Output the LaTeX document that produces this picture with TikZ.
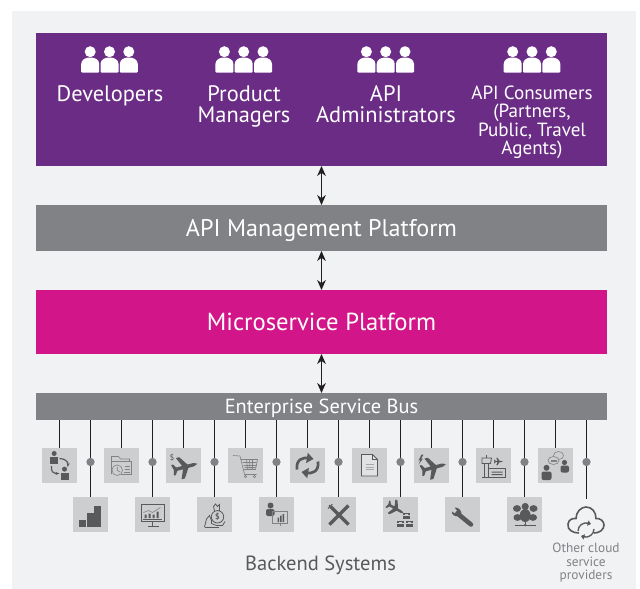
\documentclass[tikz,border=0pt]{standalone}
\usepackage{fontspec}
\setmainfont{PT Sans}
\usetikzlibrary{positioning}
\usetikzlibrary{arrows.meta}
\definecolor{panelgray}{HTML}{F1F2F4}
\definecolor{platpurple}{HTML}{6B2C85}
\definecolor{platmagenta}{HTML}{D2168A}
\definecolor{platgray}{HTML}{808285}
\definecolor{tilegray}{HTML}{CDCECF}
\definecolor{icondark}{HTML}{58595B}
\definecolor{linedark}{HTML}{231F20}
\tikzset{
	layerbox/.style = {rectangle, inner sep = 0pt, outer sep = 0pt, text = white, text depth = 0pt, minimum width = 428.25pt},
	grouplabel/.style = {anchor = north, align = center, inner sep = 0pt, text = white, font = \fontsize{16.8}{15.8}\selectfont},
	tile/.style = {rectangle, fill = tilegray, inner sep = 0pt, minimum size = 26.25pt},
	busdot/.style = {circle, fill = platgray, inner sep = 0pt, minimum size = 6.2pt},
	busline/.style = {draw = linedark, line width = 1pt},
	biarrow/.style = {{Stealth[length = 7.5pt, width = 6.5pt]}-{Stealth[length = 7.5pt, width = 6.5pt]}, draw = linedark, line width = 0.7pt},
	iconline/.style = {draw = icondark, line width = 0.6pt, fill = none},
	iconthin/.style = {draw = platgray, line width = 0.45pt, fill = none},
	% three persons
	pics/persons/.style = {code = {
		\foreach \dx in {-19.3,0,19.3} {
			\fill [white, shift = {(\dx,0)}] (0,-10.3) circle [radius = 5.5];
			\fill [white, shift = {(\dx,0)}, rounded corners = 0.8pt] (-9,10.7) -- (-9,3) .. controls (-9,-2.5) and (-4,-4.5) .. (0,-4.5) .. controls (4,-4.5) and (9,-2.5) .. (9,3) -- (9,10.7) -- cycle;
		}
	}},
	% plane, nose along +x
	pics/plane/.style = {code = {
		\fill [icondark, rounded corners = 0.3pt] (13,0) -- (9,-1.7) -- (3,-1.7) -- (-3,-11) -- (-6.5,-11) -- (-2.5,-1.7) -- (-8.5,-1.7) -- (-11,-5.5) -- (-13,-5.5) -- (-11.5,0) -- (-13,5.5) -- (-11,5.5) -- (-8.5,1.7) -- (-2.5,1.7) -- (-6.5,11) -- (-3,11) -- (3,1.7) -- (9,1.7) -- cycle;
	}},
	pics/swapicon/.style = {code = {
		\fill [icondark] (-5.3,-12) circle [radius = 2.5];
		\fill [icondark] (-9.3,-9) rectangle (-1.3,-1.7);
		\fill [icondark] (5,3.7) circle [radius = 2.5];
		\fill [icondark] (1,7) rectangle (9,14);
		\draw [iconline, line width = 0.9pt, -{Stealth[length = 3pt]}] (0,-7) .. controls (6,-7) and (9,-3) .. (8,1.5);
		\draw [iconline, line width = 0.9pt, -{Stealth[length = 3pt]}] (-8,0.5) .. controls (-9,6) and (-6,8) .. (0,8);
	}},
	pics/foldericon/.style = {code = {
		\draw [iconthin] (-10,8.5) -- (-10,-9) -- (-3,-9) -- (-1,-6.5) -- (8,-6.5) -- (8,-4.5);
		\draw [iconthin] (-10,-4.5) -- (10,-4.5) -- (10,9) -- (-1,9);
		\filldraw [iconthin, fill = tilegray] (-4.3,4.7) circle [radius = 5.3];
		\draw [iconthin] (-4.3,1.3) -- (-4.3,4.7) -- (-1.5,6.5);
		\draw [iconthin] (3,1) -- (8,1) (3,4) -- (8,4) (2,7) -- (8,7);
	}},
	pics/dollarplane/.style = {code = {
		\pic [rotate = 15, scale = 1] at (1.5,1.5) {plane};
		\node (dollarsign) [inner sep = 0pt, text = icondark, font = \fontsize{6}{6}\selectfont] at (-11.5,-8) {\$};
	}},
	pics/carticon/.style = {code = {
		\draw [iconthin] (-12.5,-10) -- (-5.5,-9.5) -- (-1,9) -- (11,9);
		\draw [iconthin] (-5,-6) -- (12,-6) -- (10,4) -- (-2,4);
		\draw [iconthin] (-3,-3) -- (11,-3) (-2,0) -- (11,0) (-1,2) -- (10,2) (1,-6) -- (2,4) (4,-6) -- (4.5,4) (7,-6) -- (7,4);
		\draw [iconthin] (0,11) circle [radius = 1.3] (9,11) circle [radius = 1.3];
	}},
	pics/syncicon/.style = {code = {
		\draw [icondark, line width = 2pt, -{Triangle[length = 5pt, width = 7.5pt]}] (-10.5,4) .. controls (-12,-7) and (-3,-8) .. (6,-6.5);
		\draw [icondark, line width = 2pt, -{Triangle[length = 5pt, width = 7.5pt]}] (10.5,-4) .. controls (12,7) and (3,8) .. (-6,6.5);
	}},
	pics/docicon/.style = {code = {
		\draw [iconline, fill = tilegray!60!white] (-8,-11) -- (3,-11) -- (8,-6) -- (8,10.5) -- (-8,10.5) -- cycle;
		\draw [iconline] (3,-11) -- (3,-6) -- (8,-6);
		\draw [platgray!70!white, line width = 0.7pt] (-4,-1) -- (4.5,-1) (-4,1.5) -- (4.5,1.5) (-4,4) -- (4.5,4);
	}},
	pics/boltplane/.style = {code = {
		\pic [rotate = 15, scale = 1] at (2,2) {plane};
		\fill [icondark] (-10,-11) -- (-13,-5) -- (-11,-5.5) -- (-13,-1) -- (-8.5,-7) -- (-10.5,-6.5) -- (-8,-11) -- cycle;
	}},
	pics/towericon/.style = {code = {
		\draw [iconline] (-11.5,-2) -- (-3,-2) -- (-2,-7.5) -- (-11.5,-7.5) -- cycle;
		\draw [iconline] (-7,-7.5) -- (-7,-11);
		\draw [iconline] (-9.5,-2) -- (-9.5,12) (-5.5,-2) -- (-5.5,12);
		\draw [iconline] (-12,12) -- (12,12);
		\draw [iconline] (-5.5,3) -- (12,3) -- (12,12);
		\fill [icondark] (-2,6) rectangle (9,7) (-2,8.5) rectangle (9,9.5);
		\pic [scale = 0.35] at (5,-4) {plane};
	}},
	pics/chaticon/.style = {code = {
		\fill [icondark] (-9,2.3) circle [radius = 3];
		\fill [icondark, rounded corners = 1.5pt] (-14,14.5) -- (-14,6) -- (-4,6) -- (-4,14.5) -- cycle;
		\fill [icondark] (9,-3) circle [radius = 2.6];
		\fill [icondark, rounded corners = 1.5pt] (5,7) -- (5,0) -- (13.5,0) -- (13.5,7) -- cycle;
		\draw [iconthin] (3,-10) ellipse [x radius = 5, y radius = 4];
		\filldraw [iconthin, fill = tilegray] (-2,-5) ellipse [x radius = 5.5, y radius = 4];
		\draw [iconthin] (-5,-5.5) -- (1,-5.5) (-5,-4) -- (1,-4);
	}},
	pics/barsicon/.style = {code = {
		\fill [icondark] (-11.5,5.5) rectangle (-4.5,12.5);
		\fill [icondark] (-3.8,-2) rectangle (3,12.5);
		\fill [icondark] (3.7,-9) rectangle (10.5,12.5);
	}},
	pics/monitoricon/.style = {code = {
		\draw [iconline] (-11.5,-10) rectangle (12,7);
		\draw [iconline] (0,7) -- (0,11.5) (-5,11.5) -- (6,11.5);
		\fill [icondark] (-8,0) rectangle (-6,3.5) (-4,-1) rectangle (-2,3.5) (0,-0) rectangle (2,3.5) (4,-3) rectangle (6,3.5);
		\draw [iconthin] (-9,-2) -- (-4,-4) -- (0,-2) -- (8,-7);
		\draw [iconline] (-9.5,4.5) -- (9.5,4.5);
	}},
	pics/bagicon/.style = {code = {
		\draw [iconline] (3,2.3) circle [radius = 6.2];
		\draw [iconline] (0,-3.5) -- (-1,-8) -- (1,-10.5) -- (3,-8) -- (5,-10) -- (5,-3.5);
		\node (bagdollar) [inner sep = 0pt, text = icondark, font = \bfseries\fontsize{6}{6}\selectfont] at (3,2.5) {\$};
		\draw [iconline] (-10,12.5) -- (-8,4.5) -- (-5,1) -- (-3,6) -- (-3,9) -- (2,11) -- (8,11) -- (10.5,7);
		\draw [iconline] (-10,12.5) -- (4,12.5);
	}},
	pics/boardicon/.style = {code = {
		\fill [icondark] (-6,-9) circle [radius = 3];
		\fill [icondark, rounded corners = 1.5pt] (-10.5,1.5) -- (-10.5,-5.5) -- (-2,-5.5) -- (-2,1.5) -- cycle;
		\draw [iconthin] (-4,-3) -- (11,-3) -- (11,9) -- (-4,9) -- cycle;
		\fill [icondark] (1,3) rectangle (2.5,7.5) (3.5,1) rectangle (5,7.5) (6,-0.5) rectangle (7.5,7.5);
		\draw [iconthin] (3.5,9) -- (3.5,11);
	}},
	pics/forkknife/.style = {code = {
		\draw [icondark, line width = 2.6pt] (-8,-8) -- (10,10);
		\draw [icondark, line width = 2.6pt] (10,-9) -- (-9,10);
		\draw [icondark, line width = 0.7pt] (-10.5,-6) -- (-6,-10.5) (-9.5,-8.5) -- (-8.5,-9.5);
	}},
	pics/cargoicon/.style = {code = {
		\pic [rotate = -30, scale = 0.72] at (-5,-6) {plane};
		\foreach \bx/\by in {2/-1,-4/7,5/7} {
			\fill [icondark, shift = {(\bx,\by)}] (0,-1) rectangle (7.5,5);
			\draw [tilegray, line width = 0.4pt, shift = {(\bx,\by)}] (0,2) -- (7.5,2) (2.5,0.3) -- (5,0.3);
		}
	}},
	pics/wrenchicon/.style = {code = {
		\draw [icondark, line width = 3.4pt, line cap = round] (-5,-1) -- (8.5,10);
		\fill [icondark] (-10.5,-3) .. controls (-11,0) and (-8,2.5) .. (-4,1.5) -- (-1,-1.5) .. controls (-2,-5) and (-4,-7) .. (-8,-7) -- (-5.5,-4) -- (-7.5,-1) -- cycle;
	}},
	pics/clustericon/.style = {code = {
		\foreach \cx/\cy in {-7.5/-6,9/-6,-7/3,8.5/3} {
			\fill [icondark] (\cx,\cy) ellipse [x radius = 4, y radius = 3.4];
		}
		\fill [icondark] (0.7,-8) circle [radius = 3.6];
		\fill [icondark] (0.7,1) ellipse [x radius = 5.5, y radius = 6.5];
		\draw [icondark, line width = 0.5pt] (-10,10.5) -- (11,10.5) (0.7,6) -- (0.7,10.5);
		\fill [icondark] (0.7,10.5) circle [radius = 1.3];
	}},
	pics/cloudicon/.style = {code = {
		\draw [icondark, line width = 1.2pt] (-7,11) .. controls (-13,11) and (-19,8) .. (-18,2) .. controls (-17.5,-2) and (-14,-4) .. (-10,-3.5) .. controls (-10,-10) and (-5,-15) .. (0,-15) .. controls (6,-15) and (10,-10) .. (10,-3.5) .. controls (14,-4) and (18,-1) .. (18,3) .. controls (18,8) and (13,11) .. (8,11);
		\draw [icondark, line width = 1pt, -{Triangle[length = 2.5pt, width = 4pt]}] (-8,9) .. controls (-8,3) and (-2,0) .. (5,2);
		\draw [icondark, line width = 1pt, -{Triangle[length = 2.5pt, width = 4pt]}] (8,7) .. controls (8,13) and (2,16) .. (-5,14);
	}},
}
\begin{document}
\begin{tikzpicture}[x = 0.75pt, y = -0.75pt]
	\useasboundingbox (0,0) rectangle (640,589);
	%
	\node (panel) [rectangle, fill = panelgray, inner sep = 0pt, minimum width = 468pt, minimum height = 433.5pt] at (324,300) {};
	%
	\node (usersbox) [layerbox, fill = platpurple, minimum height = 99.75pt] at (321.5,99.5) {};
	\node (apibox) [layerbox, fill = platgray, minimum height = 34.5pt, below = 29.25pt of usersbox, font = \fontsize{18.1}{20}\selectfont] {API Management Platform};
	\node (microbox) [layerbox, fill = platmagenta, minimum height = 48pt, below = 29.25pt of apibox, font = \fontsize{18.5}{20}\selectfont] {Microservice Platform};
	\node (busbox) [layerbox, fill = platgray, minimum height = 20.25pt, below = 29.25pt of microbox, font = \fontsize{15.3}{16}\selectfont] {Enterprise Service Bus};
	%
	\draw [biarrow] (usersbox) -- (apibox);
	\draw [biarrow] (apibox) -- (microbox);
	\draw [biarrow] (microbox) -- (busbox);
	%
	\pic at (109.5,62) {persons};
	\pic at (243.7,62) {persons};
	\pic at (385.7,62) {persons};
	\pic at (532,62) {persons};
	%
	\node (devlabel) [grouplabel] at (110,85) {Developers};
	\node (prodlabel) [grouplabel] at (244,85) {Product\\Managers};
	\node (adminlabel) [grouplabel] at (386,85) {API\\Administrators};
	\node (consumerlabel) [grouplabel, font = \fontsize{14.3}{13.9}\selectfont] at (532,85.5) {API Consumers\\(Partners,\\Public, Travel\\Agents)};
	%
	\foreach \tilename/\tilex/\tileicon in {tileA/59.5/swapicon, tileC/121.5/foldericon, tileE/183.5/dollarplane, tileG/245.5/carticon, tileI/307.5/syncicon, tileK/369.5/docicon, tileM/431.5/boltplane, tileO/493.5/towericon, tileQ/555.5/chaticon} {
		\node (\tilename) [tile] at (\tilex,465.5) {};
		\draw [busline] (\tilename.north |- busbox.south) -- (\tilename.north);
		\pic at (\tilename) {\tileicon};
	}
	%
	\foreach \tilename/\tilex/\tileicon in {tileB/90.5/barsicon, tileD/152.5/monitoricon, tileF/214.5/bagicon, tileH/276.5/boardicon, tileJ/338.5/forkknife, tileL/400.5/cargoicon, tileN/462.5/wrenchicon, tileP/524.5/clustericon} {
		\node (\tilename) [tile] at (\tilex,514.5) {};
		\draw [busline] (\tilename.north |- busbox.south) -- (\tilename.north);
		\node (dot\tilename) [busdot] at (\tilex,462) {};
		\pic at (\tilename) {\tileicon};
	}
	%
	\coordinate (cloudtop) at (586.5,499);
	\draw [busline] (cloudtop |- busbox.south) -- (cloudtop);
	\node (dotcloud) [busdot] at (586.5,462) {};
	\pic at (586,522) {cloudicon};
	%
	\node (cloudlabel) [anchor = north, align = center, inner sep = 0pt, text = platgray, font = \fontsize{10}{10}\selectfont] at (586,543) {Other cloud\\service\\providers};
	\node (backendlabel) [inner sep = 0pt, text = icondark, text depth = 0pt, font = \fontsize{15.4}{16}\selectfont] at (320.5,563) {Backend Systems};
	%
\end{tikzpicture}
\end{document}
